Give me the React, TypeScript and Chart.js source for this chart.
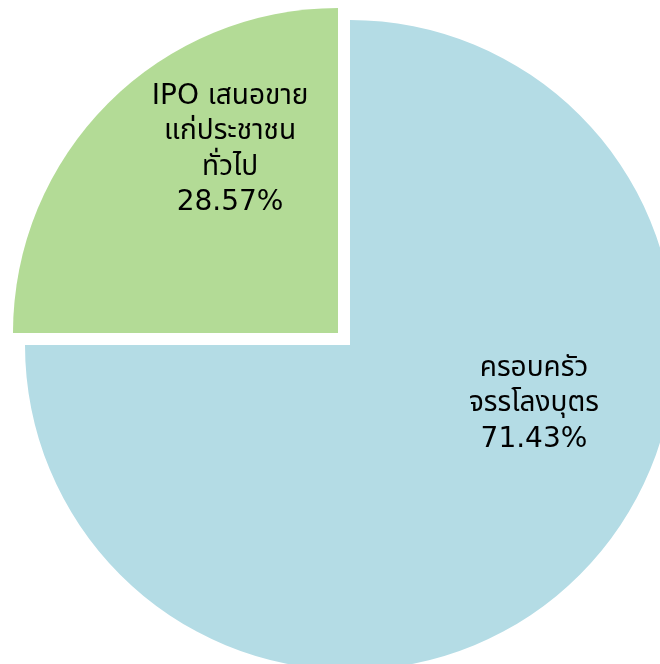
import React, { useEffect, useRef } from "react";
import { Chart, registerables } from "chart.js";

Chart.register(...registerables);

// Category names (split into display lines), drawn shares, printed percentages
const categoryLines: string[][] = [
  ["ครอบครัว", "จรรโลงบุตร"],
  ["IPO เสนอขาย", "แก่ประชาชน", "ทั่วไป"],
];
const sliceShares: number[] = [75, 25];
const percentLabels: string[] = ["71.43%", "28.57%"];
const sliceColors: string[] = ["#b4dce5", "#b3db96"];
const sliceOffsetPx: number[] = [0, 17];
// label anchor relative to slice centre, as fraction of radius (x centre, first baseline y)
const labelAnchorX: number[] = [0.566, -0.332];
const labelAnchorY: number[] = [0.095, -0.705];

const FONT = "'DejaVu Sans', Tahoma, 'Noto Sans Thai', 'Noto Sans', sans-serif";

const labelPlugin = {
  id: "sliceLabels",
  afterDatasetsDraw(chart: any) {
    const ctx = chart.ctx;
    const meta = chart.getDatasetMeta(0);
    meta.data.forEach((arc: any, i: number) => {
      const p = arc.getProps(["x", "y", "startAngle", "endAngle", "outerRadius"], true);
      const mid = (p.startAngle + p.endAngle) / 2;
      const off = sliceOffsetPx[i];
      const cx = p.x + Math.cos(mid) * off;
      const cy = p.y + Math.sin(mid) * off;
      const r = p.outerRadius;
      const x = cx + labelAnchorX[i] * r;
      let y = cy + labelAnchorY[i] * r;
      const lines = [...categoryLines[i], percentLabels[i]];
      ctx.save();
      ctx.fillStyle = "#000000";
      ctx.font = `28px ${FONT}`;
      ctx.textAlign = "center";
      ctx.textBaseline = "alphabetic";
      lines.forEach((ln) => {
        ctx.fillText(ln, x, y);
        y += 35.5;
      });
      ctx.restore();
    });
  },
};

export default function App() {
  const ref = useRef<HTMLCanvasElement | null>(null);
  useEffect(() => {
    if (!ref.current) return;
    const chart = new Chart(ref.current, {
      type: "pie",
      data: {
        labels: categoryLines.map((l) => l.join(" ")),
        datasets: [
          {
            data: sliceShares,
            backgroundColor: sliceColors,
            borderWidth: 0,
            // Chart.js translates a 90-degree arc by offset / 4
            offset: sliceOffsetPx.map((o) => o * 4),
          },
        ],
      },
      options: {
        responsive: false,
        animation: false,
        radius: 325,
        layout: { padding: 0 },
        plugins: {
          legend: { display: false },
          tooltip: { enabled: false },
        },
        events: [],
      },
      plugins: [labelPlugin],
    });
    return () => chart.destroy();
  }, []);
  return (
    <div style={{ position: "fixed", left: 0, top: 0, width: 660, height: 664, overflow: "hidden", background: "#ffffff" }}>
      <canvas ref={ref} width={700} height={690} style={{ display: "block" }} />
    </div>
  );
}
